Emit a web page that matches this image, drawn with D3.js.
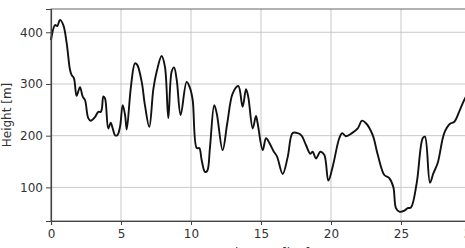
<!DOCTYPE html>
<html>
<head>
<meta charset="utf-8">
<script src="https://cdn.jsdelivr.net/npm/d3@7"></script>
<style>
  body { margin: 0; background: #fff; }
  svg { display: block; font-family: "DejaVu Sans", sans-serif; }
</style>
</head>
<body>
<svg id="mainsvg" width="465" height="248"></svg>
<script>
// elevation profile
const distance = [0, 0.29, 0.45, 0.64, 0.88, 1.12, 1.36, 1.48, 1.64, 1.83, 2.07, 2.26, 2.43, 2.66, 2.84,
  3.14, 3.38, 3.55, 3.64, 3.74, 3.86, 4.09, 4.26, 4.41, 4.57, 4.74, 4.93, 5.12, 5.29, 5.41, 5.71,
  6.0, 6.16, 6.48, 6.71, 7.02, 7.31, 7.55, 7.9, 8.14, 8.38, 8.62, 8.79, 8.98, 9.26, 9.69, 9.93,
  10.12, 10.41, 10.59, 10.76, 11.0, 11.16, 11.36, 11.66, 11.84, 12.26, 12.59, 12.98, 13.38, 13.69,
  13.93, 14.09, 14.41, 14.64, 14.76, 15.12, 15.36, 15.6, 15.9, 16.14, 16.55, 16.91, 17.26, 17.62,
  17.9, 18.21, 18.52, 18.69, 18.93, 19.24, 19.52, 19.81, 20.12, 20.59, 20.8, 21.07, 21.5, 21.91,
  22.21, 22.5, 22.98, 23.34, 23.81, 24.16, 24.45, 24.64, 24.88, 25.24, 25.48, 25.71, 26.12, 26.55,
  26.71, 27.07, 27.31, 27.62, 28.09, 28.5, 28.81, 29.21, 29.57, 30.0, 30.5];
const height = [385, 414, 412, 424, 414, 379, 327, 317, 311, 277, 294, 276, 269, 234, 229,
  236, 246, 246, 253, 276, 272, 214, 225, 214, 201, 201, 217, 259, 240, 212, 295,
  340, 337, 304, 259, 217, 290, 324, 354, 333, 234, 324, 332, 308, 240, 304, 292,
  269, 176, 176, 153, 130, 132, 179, 259, 243, 172, 224, 282, 296, 256,
  290, 275, 214, 238, 224, 172, 195, 186, 170, 160, 126, 159, 205, 205,
  200, 182, 165, 169, 156, 169, 163, 113, 140, 195, 205, 199, 205, 214,
  229, 224, 201, 163, 124, 118, 101, 60, 53, 55, 60, 61, 108, 195,
  198, 109, 127, 147, 205, 223, 227, 250, 272, 290, 305];
const xTicks = [0, 5, 10, 15, 20, 25, 30];
const yTicks = [100, 200, 300, 400];

const svg = d3.select('#mainsvg');
const margin = {left: 51, top: 9, right: 485, bottom: 221};

const x = d3.scaleLinear().domain([0, 31]).range([margin.left, margin.right]);
const y = d3.scaleLinear().domain([35, 445]).range([margin.bottom, margin.top]);

const g = svg.append('g');

// grid
g.selectAll('.vgrid').data(xTicks).join('line').attr('class', 'vgrid')
  .attr('x1', d => x(d)).attr('x2', d => x(d))
  .attr('y1', margin.top).attr('y2', margin.bottom)
  .attr('stroke', '#c8c8c8').attr('stroke-width', 1);
g.selectAll('.hgrid').data(yTicks).join('line').attr('class', 'hgrid')
  .attr('x1', margin.left).attr('x2', margin.right)
  .attr('y1', d => y(d)).attr('y2', d => y(d))
  .attr('stroke', '#c8c8c8').attr('stroke-width', 1);

// frame
g.append('rect')
  .attr('x', margin.left).attr('y', margin.top)
  .attr('width', margin.right - margin.left).attr('height', margin.bottom - margin.top)
  .attr('fill', 'none').attr('stroke', '#666').attr('stroke-width', 1);

// line
const line = d3.line()
  .x((d, i) => x(distance[i]))
  .y(d => y(d))
  .curve(d3.curveCatmullRom.alpha(0.5));
g.append('path')
  .datum(height)
  .attr('fill', 'none')
  .attr('stroke', '#111')
  .attr('stroke-width', 1.9)
  .attr('stroke-linejoin', 'round')
  .attr('d', line);

// axes
const xAxis = d3.axisBottom(x).tickValues(xTicks).tickSize(4).tickPadding(4);
const yAxis = d3.axisLeft(y).tickValues(yTicks).tickSize(5).tickPadding(3);

const gx = svg.append('g').attr('transform', `translate(0,${margin.bottom})`).call(xAxis);
const gy = svg.append('g').attr('transform', `translate(${margin.left},0)`).call(yAxis);
[gx, gy].forEach(a => {
  a.select('.domain').attr('stroke', '#444').attr('stroke-width', 1.2);
  a.selectAll('.tick line').attr('stroke', '#444');
  a.selectAll('.tick text').attr('fill', '#333').style('font-size', '12px')
    .style('font-family', '"DejaVu Sans", sans-serif');
});

// labels
svg.append('text')
  .attr('transform', `translate(11,${(margin.top + margin.bottom) / 2}) rotate(-90)`)
  .attr('text-anchor', 'middle')
  .attr('fill', '#333')
  .style('font-size', '12px')
  .text('Height [m]');

svg.append('text')
  .attr('x', (margin.left + margin.right) / 2)
  .attr('y', 257)
  .attr('text-anchor', 'middle')
  .attr('fill', '#333')
  .style('font-size', '12px')
  .text('Distance [km]');
</script>
</body>
</html>
